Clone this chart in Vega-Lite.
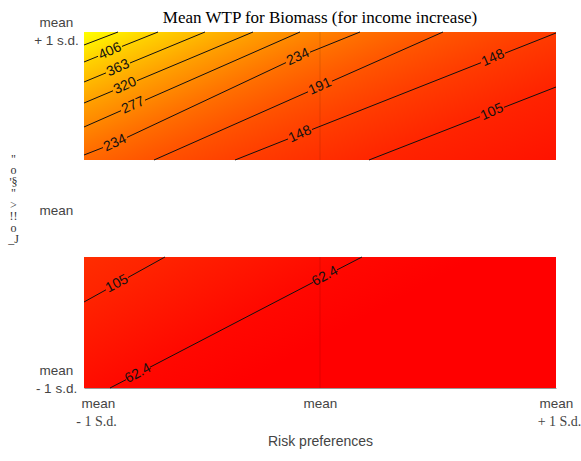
{
  "$schema": "https://vega.github.io/schema/vega-lite/v6.json",
  "width": 472,
  "height": 356,
  "autosize": "none",
  "padding": {"left": 84, "top": 32, "right": 25, "bottom": 73},
  "background": "white",
  "config": {"view": {"stroke": null}},
  "title": {"text": "Mean WTP for Biomass (for income increase)", "font": "Liberation Serif", "fontSize": 17, "fontWeight": "normal", "color": "#000", "anchor": "middle", "offset": 0, "dy": 12},
  "datasets": {
    "panels": [
      {"panel": "top", "x0": -1, "x1": 1, "y0": 0.281, "y1": 1, "mid": 0},
      {"panel": "bottom", "x0": -1, "x1": 1, "y0": -1, "y1": -0.264, "mid": 0}
    ],
    "contours": [
      {"seg": "449a", "x": -1, "y": 0.927},
      {"seg": "449a", "x": -0.8559, "y": 1.0},
      {"seg": "406a", "x": -1, "y": 0.8315},
      {"seg": "406a", "x": -0.9407, "y": 0.8635},
      {"seg": "406b", "x": -0.839, "y": 0.9191},
      {"seg": "406b", "x": -0.6864, "y": 1.0},
      {"seg": "363a", "x": -1, "y": 0.7191},
      {"seg": "363a", "x": -0.9068, "y": 0.7702},
      {"seg": "363b", "x": -0.8051, "y": 0.8258},
      {"seg": "363b", "x": -0.4873, "y": 1.0},
      {"seg": "320a", "x": -1, "y": 0.6011},
      {"seg": "320a", "x": -0.8771, "y": 0.6697},
      {"seg": "320b", "x": -0.7754, "y": 0.7264},
      {"seg": "320b", "x": -0.2839, "y": 1.0},
      {"seg": "277a", "x": -1, "y": 0.4663},
      {"seg": "277a", "x": -0.8432, "y": 0.5579},
      {"seg": "277b", "x": -0.7415, "y": 0.6169},
      {"seg": "277b", "x": -0.0847, "y": 1.0},
      {"seg": "234a", "x": -1, "y": 0.309},
      {"seg": "234a", "x": -0.9195, "y": 0.3506},
      {"seg": "234b", "x": -0.8178, "y": 0.4079},
      {"seg": "234b", "x": -0.1441, "y": 0.8281},
      {"seg": "234c", "x": -0.0424, "y": 0.8865},
      {"seg": "234c", "x": 0.1695, "y": 1.0},
      {"seg": "191a", "x": -0.7034, "y": 0.2809},
      {"seg": "191a", "x": -0.0508, "y": 0.664},
      {"seg": "191b", "x": 0.0508, "y": 0.7236},
      {"seg": "191b", "x": 0.5212, "y": 1.0},
      {"seg": "148a", "x": -0.3602, "y": 0.2809},
      {"seg": "148a", "x": -0.1356, "y": 0.3989},
      {"seg": "148b", "x": -0.0339, "y": 0.4522},
      {"seg": "148b", "x": 0.6822, "y": 0.8275},
      {"seg": "148c", "x": 0.7839, "y": 0.8809},
      {"seg": "148c", "x": 1.0, "y": 0.9944},
      {"seg": "105a", "x": 0.2076, "y": 0.2809},
      {"seg": "105a", "x": 0.678, "y": 0.5242},
      {"seg": "105b", "x": 0.7797, "y": 0.577},
      {"seg": "105b", "x": 1.0, "y": 0.691},
      {"seg": "105la", "x": -1, "y": -0.5169},
      {"seg": "105la", "x": -0.9068, "y": -0.4483},
      {"seg": "105lb", "x": -0.8136, "y": -0.3792},
      {"seg": "105lb", "x": -0.6568, "y": -0.264},
      {"seg": "62a", "x": -0.8898, "y": -1.0},
      {"seg": "62a", "x": -0.822, "y": -0.9534},
      {"seg": "62b", "x": -0.7203, "y": -0.8831},
      {"seg": "62b", "x": -0.0297, "y": -0.4067},
      {"seg": "62c", "x": 0.072, "y": -0.3365},
      {"seg": "62c", "x": 0.178, "y": -0.264}
    ],
    "labels": [
      {"text": "406", "x": -0.8898, "y": 0.8916, "panel": "top"},
      {"text": "363", "x": -0.8559, "y": 0.7978, "panel": "top"},
      {"text": "320", "x": -0.8263, "y": 0.6978, "panel": "top"},
      {"text": "277", "x": -0.7924, "y": 0.5876, "panel": "top"},
      {"text": "234", "x": -0.8686, "y": 0.3764, "panel": "top"},
      {"text": "234", "x": -0.0932, "y": 0.8596, "panel": "top"},
      {"text": "191", "x": 0.0, "y": 0.6938, "panel": "top"},
      {"text": "148", "x": -0.0847, "y": 0.4253, "panel": "top"},
      {"text": "148", "x": 0.7331, "y": 0.8539, "panel": "top"},
      {"text": "105", "x": 0.7288, "y": 0.5506, "panel": "top"},
      {"text": "105", "x": -0.8602, "y": -0.414, "panel": "bottom"},
      {"text": "62.4", "x": -0.7712, "y": -0.918, "panel": "bottom"},
      {"text": "62.4", "x": 0.0212, "y": -0.3719, "panel": "bottom"}
    ]
  },
  "layer": [
    {
      "data": {"name": "panels"},
      "transform": [{"filter": "datum.panel == 'top'"}],
      "mark": {"type": "rect", "fill": {"gradient": "linear", "x1": 0, "y1": 0, "x2": 1.162, "y2": 0.75, "stops": [
        {"offset": 0, "color": "#ffff00"},
        {"offset": 0.04, "color": "#ffed00"},
        {"offset": 0.092, "color": "#ffd300"},
        {"offset": 0.153, "color": "#ffba00"},
        {"offset": 0.218, "color": "#ffa000"},
        {"offset": 0.291, "color": "#ff8700"},
        {"offset": 0.372, "color": "#ff6d00"},
        {"offset": 0.472, "color": "#ff5400"},
        {"offset": 0.6, "color": "#ff3c00"},
        {"offset": 0.768, "color": "#ff2400"},
        {"offset": 1, "color": "#ff1200"}
      ]}},
      "encoding": {
        "x": {"field": "x0", "type": "quantitative", "scale": {"domain": [-1, 1], "nice": false, "zero": false},
          "axis": {"orient": "bottom", "values": [-1, 0, 1], "labelExpr": "'mean'", "title": null, "grid": false, "ticks": false, "tickSize": 0,
            "domain": true, "domainColor": "#999", "domainWidth": 1,
            "labelFont": "Liberation Sans", "labelFontSize": 13.5, "labelColor": "#444", "labelPadding": 8, "labelBaseline": "top",
            "labelOffset": {"expr": "datum.value == -1 ? 14 : 0"}, "labelFlush": false, "labelOverlap": false, "labelBound": false}},
        "x2": {"field": "x1"},
        "y": {"field": "y0", "type": "quantitative", "scale": {"domain": [-1, 1], "nice": false, "zero": false},
          "axis": {"orient": "left", "values": [-1, 0, 1], "labelExpr": "datum.value == 1 ? ['mean', '+ 1 s.d.'] : datum.value == -1 ? ['mean', '- 1 s.d.'] : 'mean'",
            "grid": false, "ticks": false, "tickSize": 0, "domain": false, "title": null,
            "labelFont": "Liberation Sans", "labelFontSize": 13.5, "labelColor": "#444", "labelLineHeight": 18, "labelAlign": "center", "labelBaseline": "middle", "labelPadding": 28,
            "labelOffset": {"expr": "datum.value == -1 ? -18 : datum.value == 1 ? -10 : 0"}, "labelFlush": false, "labelOverlap": false, "labelBound": false}},
        "y2": {"field": "y1"}
      }
    },
    {
      "data": {"name": "panels"},
      "transform": [{"filter": "datum.panel == 'bottom'"}],
      "mark": {"type": "rect", "fill": {"gradient": "linear", "x1": 0, "y1": 0, "x2": 1.1976, "y2": 0.6154, "stops": [
        {"offset": 0, "color": "#ff2d00"},
        {"offset": 0.115, "color": "#ff2300"},
        {"offset": 0.382, "color": "#ff0800"},
        {"offset": 0.55, "color": "#ff0000"},
        {"offset": 1, "color": "#ff0000"}
      ]}},
      "encoding": {
        "x": {"field": "x0", "type": "quantitative",
          "axis": {"orient": "bottom", "values": [-1, 0, 1], "labelExpr": "datum.value == -1 ? '- 1 S.d.' : datum.value == 1 ? '+ 1 S.d.' : ''",
            "grid": false, "ticks": false, "tickSize": 0, "domain": false,
            "labelFont": "Liberation Serif", "labelFontSize": 14, "labelColor": "#444", "labelPadding": 26, "labelBaseline": "top",
            "labelOffset": {"expr": "datum.value == -1 ? 12 : 3"}, "labelFlush": false, "labelOverlap": false, "labelBound": false,
            "title": "Risk preferences", "titleFont": "Liberation Sans", "titleFontSize": 14, "titleFontWeight": "normal", "titleColor": "#444", "titlePadding": 6}},
        "x2": {"field": "x1"},
        "y": {"field": "y0", "type": "quantitative",
          "axis": {"orient": "left", "values": [0], "labelExpr": "['\"', 'o', ' ', '\\'§', ' ', '\"', '>', ' ', '!!', 'o', '_J']",
            "grid": false, "ticks": false, "tickSize": 0, "domain": false, "title": null,
            "labelFont": "Liberation Serif", "labelFontSize": 12, "labelColor": "#333", "labelLineHeight": 11.5, "labelAlign": "center", "labelBaseline": "middle", "labelPadding": 71,
            "labelOffset": -52, "labelFlush": false, "labelOverlap": false, "labelBound": false}},
        "y2": {"field": "y1"}
      }
    },
    {
      "data": {"name": "panels"},
      "mark": {"type": "rule", "color": "#000", "opacity": 0.12, "strokeWidth": 1},
      "encoding": {
        "x": {"field": "mid", "type": "quantitative", "axis": null},
        "y": {"field": "y0", "type": "quantitative", "axis": null},
        "y2": {"field": "y1"}
      }
    },
    {
      "data": {"name": "contours"},
      "mark": {"type": "line", "color": "#111", "strokeWidth": 1},
      "encoding": {
        "x": {"field": "x", "type": "quantitative", "axis": null},
        "y": {"field": "y", "type": "quantitative", "axis": null},
        "detail": {"field": "seg"}
      }
    },
    {
      "data": {"name": "labels"},
      "transform": [{"filter": "datum.panel == 'top'"}],
      "mark": {"type": "text", "angle": -24, "font": "Liberation Sans", "fontSize": 14, "color": "#111", "align": "center", "baseline": "middle"},
      "encoding": {
        "x": {"field": "x", "type": "quantitative", "axis": null},
        "y": {"field": "y", "type": "quantitative", "axis": null},
        "text": {"field": "text"}
      }
    },
    {
      "data": {"name": "labels"},
      "transform": [{"filter": "datum.panel == 'bottom'"}],
      "mark": {"type": "text", "angle": -28, "font": "Liberation Sans", "fontSize": 14, "color": "#111", "align": "center", "baseline": "middle"},
      "encoding": {
        "x": {"field": "x", "type": "quantitative", "axis": null},
        "y": {"field": "y", "type": "quantitative", "axis": null},
        "text": {"field": "text"}
      }
    }
  ],
  "resolve": {"axis": {"x": "independent", "y": "independent"}}
}
